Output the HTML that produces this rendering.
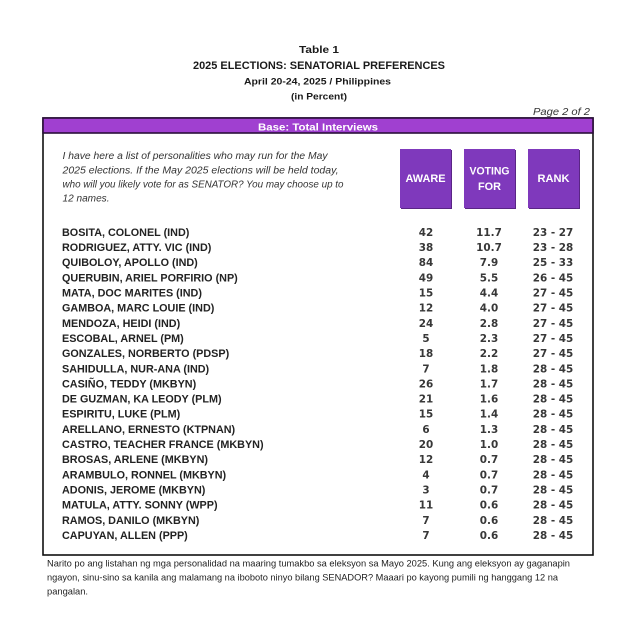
<!DOCTYPE html>
<html><head><meta charset="utf-8"><style>
html,body{margin:0;padding:0;background:#fff;}
svg{display:block;}
.t{font-family:"Liberation Sans",sans-serif;font-weight:bold;fill:#1a1a1a;}
.n{font-family:"Liberation Sans",sans-serif;font-weight:bold;font-size:10.8px;fill:#222;}
.v{font-family:"DejaVu Sans","Liberation Sans",sans-serif;font-weight:bold;font-size:10.4px;fill:#383838;}
.q{font-family:"Liberation Sans",sans-serif;font-style:italic;font-size:10px;fill:#333;}
.f{font-family:"Liberation Sans",sans-serif;font-size:9.4px;fill:#1e1e1e;}
.w{font-family:"Liberation Sans",sans-serif;font-weight:bold;fill:#fff;}
</style></head><body>
<svg width="640" height="629" viewBox="0 0 640 629" xmlns="http://www.w3.org/2000/svg">
<rect width="640" height="629" fill="#fff"/>
<text class="t" x="319" y="53" font-size="10.5" text-anchor="middle" textLength="40" lengthAdjust="spacingAndGlyphs">Table 1</text>
<text class="t" x="319" y="69" font-size="11" text-anchor="middle" textLength="252" lengthAdjust="spacingAndGlyphs">2025 ELECTIONS: SENATORIAL PREFERENCES</text>
<text class="t" x="317.5" y="84.5" font-size="9.5" text-anchor="middle" textLength="147" lengthAdjust="spacingAndGlyphs">April 20-24, 2025 / Philippines</text>
<text class="t" x="319" y="99.5" font-size="9.5" text-anchor="middle" textLength="56" lengthAdjust="spacingAndGlyphs">(in Percent)</text>
<text x="590" y="115" font-family="Liberation Sans, sans-serif" font-style="italic" font-size="10.5" fill="#333" text-anchor="end" textLength="57" lengthAdjust="spacingAndGlyphs">Page 2 of 2</text>

<rect x="43" y="118" width="550" height="437" fill="#fff" stroke="#111" stroke-width="1.6"/>
<rect x="43" y="118" width="550" height="15" fill="#a040d0" stroke="#2a0f3a" stroke-width="1.6"/>
<text class="w" x="318" y="130.5" font-size="10.5" text-anchor="middle" textLength="120" lengthAdjust="spacingAndGlyphs">Base: Total Interviews</text>

<text class="q" x="62.5" y="159" textLength="265" lengthAdjust="spacingAndGlyphs">I have here a list of personalities who may run for the May</text>
<text class="q" x="62.5" y="173.5" textLength="276" lengthAdjust="spacingAndGlyphs">2025 elections. If the May 2025 elections will be held today,</text>
<text class="q" x="62.5" y="187.5" textLength="281" lengthAdjust="spacingAndGlyphs">who will you likely vote for as SENATOR? You may choose up to</text>
<text class="q" x="62.5" y="201.5" textLength="47" lengthAdjust="spacingAndGlyphs">12 names.</text>

<rect x="401" y="150" width="51" height="59" fill="#5a2585"/>
<rect x="400" y="149" width="51" height="59" fill="#7f39bc"/>
<rect x="465" y="150" width="51" height="59" fill="#5a2585"/>
<rect x="464" y="149" width="51" height="59" fill="#7f39bc"/>
<rect x="529" y="150" width="51" height="59" fill="#5a2585"/>
<rect x="528" y="149" width="51" height="59" fill="#7f39bc"/>
<text class="w" x="425.5" y="182" font-size="11" text-anchor="middle" textLength="40" lengthAdjust="spacingAndGlyphs">AWARE</text>
<text class="w" x="489.5" y="174.5" font-size="11" text-anchor="middle" textLength="40" lengthAdjust="spacingAndGlyphs">VOTING</text>
<text class="w" x="489.5" y="190" font-size="11" text-anchor="middle" textLength="23" lengthAdjust="spacingAndGlyphs">FOR</text>
<text class="w" x="553.5" y="182" font-size="11" text-anchor="middle" textLength="32" lengthAdjust="spacingAndGlyphs">RANK</text>

<g>
<text class="n" x="62" y="235.9">BOSITA, COLONEL (IND)</text>
<text class="n" x="62" y="251.05">RODRIGUEZ, ATTY. VIC (IND)</text>
<text class="n" x="62" y="266.2">QUIBOLOY, APOLLO (IND)</text>
<text class="n" x="62" y="281.35">QUERUBIN, ARIEL PORFIRIO (NP)</text>
<text class="n" x="62" y="296.5">MATA, DOC MARITES (IND)</text>
<text class="n" x="62" y="311.65">GAMBOA, MARC LOUIE (IND)</text>
<text class="n" x="62" y="326.8">MENDOZA, HEIDI (IND)</text>
<text class="n" x="62" y="341.95">ESCOBAL, ARNEL (PM)</text>
<text class="n" x="62" y="357.1">GONZALES, NORBERTO (PDSP)</text>
<text class="n" x="62" y="372.25">SAHIDULLA, NUR-ANA (IND)</text>
<text class="n" x="62" y="387.4">CASIÑO, TEDDY (MKBYN)</text>
<text class="n" x="62" y="402.55">DE GUZMAN, KA LEODY (PLM)</text>
<text class="n" x="62" y="417.7">ESPIRITU, LUKE (PLM)</text>
<text class="n" x="62" y="432.85">ARELLANO, ERNESTO (KTPNAN)</text>
<text class="n" x="62" y="448">CASTRO, TEACHER FRANCE (MKBYN)</text>
<text class="n" x="62" y="463.15">BROSAS, ARLENE (MKBYN)</text>
<text class="n" x="62" y="478.3">ARAMBULO, RONNEL (MKBYN)</text>
<text class="n" x="62" y="493.45">ADONIS, JEROME (MKBYN)</text>
<text class="n" x="62" y="508.6">MATULA, ATTY. SONNY (WPP)</text>
<text class="n" x="62" y="523.75">RAMOS, DANILO (MKBYN)</text>
<text class="n" x="62" y="538.9">CAPUYAN, ALLEN (PPP)</text>
</g>
<g text-anchor="middle">
<text class="v" x="426" y="235.9">42</text><text class="v" x="489" y="235.9">11.7</text><text class="v" x="553" y="235.9">23 - 27</text>
<text class="v" x="426" y="251.05">38</text><text class="v" x="489" y="251.05">10.7</text><text class="v" x="553" y="251.05">23 - 28</text>
<text class="v" x="426" y="266.2">84</text><text class="v" x="489" y="266.2">7.9</text><text class="v" x="553" y="266.2">25 - 33</text>
<text class="v" x="426" y="281.35">49</text><text class="v" x="489" y="281.35">5.5</text><text class="v" x="553" y="281.35">26 - 45</text>
<text class="v" x="426" y="296.5">15</text><text class="v" x="489" y="296.5">4.4</text><text class="v" x="553" y="296.5">27 - 45</text>
<text class="v" x="426" y="311.65">12</text><text class="v" x="489" y="311.65">4.0</text><text class="v" x="553" y="311.65">27 - 45</text>
<text class="v" x="426" y="326.8">24</text><text class="v" x="489" y="326.8">2.8</text><text class="v" x="553" y="326.8">27 - 45</text>
<text class="v" x="426" y="341.95">5</text><text class="v" x="489" y="341.95">2.3</text><text class="v" x="553" y="341.95">27 - 45</text>
<text class="v" x="426" y="357.1">18</text><text class="v" x="489" y="357.1">2.2</text><text class="v" x="553" y="357.1">27 - 45</text>
<text class="v" x="426" y="372.25">7</text><text class="v" x="489" y="372.25">1.8</text><text class="v" x="553" y="372.25">28 - 45</text>
<text class="v" x="426" y="387.4">26</text><text class="v" x="489" y="387.4">1.7</text><text class="v" x="553" y="387.4">28 - 45</text>
<text class="v" x="426" y="402.55">21</text><text class="v" x="489" y="402.55">1.6</text><text class="v" x="553" y="402.55">28 - 45</text>
<text class="v" x="426" y="417.7">15</text><text class="v" x="489" y="417.7">1.4</text><text class="v" x="553" y="417.7">28 - 45</text>
<text class="v" x="426" y="432.85">6</text><text class="v" x="489" y="432.85">1.3</text><text class="v" x="553" y="432.85">28 - 45</text>
<text class="v" x="426" y="448">20</text><text class="v" x="489" y="448">1.0</text><text class="v" x="553" y="448">28 - 45</text>
<text class="v" x="426" y="463.15">12</text><text class="v" x="489" y="463.15">0.7</text><text class="v" x="553" y="463.15">28 - 45</text>
<text class="v" x="426" y="478.3">4</text><text class="v" x="489" y="478.3">0.7</text><text class="v" x="553" y="478.3">28 - 45</text>
<text class="v" x="426" y="493.45">3</text><text class="v" x="489" y="493.45">0.7</text><text class="v" x="553" y="493.45">28 - 45</text>
<text class="v" x="426" y="508.6">11</text><text class="v" x="489" y="508.6">0.6</text><text class="v" x="553" y="508.6">28 - 45</text>
<text class="v" x="426" y="523.75">7</text><text class="v" x="489" y="523.75">0.6</text><text class="v" x="553" y="523.75">28 - 45</text>
<text class="v" x="426" y="538.9">7</text><text class="v" x="489" y="538.9">0.6</text><text class="v" x="553" y="538.9">28 - 45</text>
</g>

<text class="f" x="47" y="566.5" textLength="523" lengthAdjust="spacingAndGlyphs">Narito po ang listahan ng mga personalidad na maaring tumakbo sa eleksyon sa Mayo 2025. Kung ang eleksyon ay gaganapin</text>
<text class="f" x="47" y="580.5" textLength="511" lengthAdjust="spacingAndGlyphs">ngayon, sinu-sino sa kanila ang malamang na iboboto ninyo bilang SENADOR?  Maaari po kayong pumili ng hanggang 12 na</text>
<text class="f" x="47" y="594.5" textLength="41" lengthAdjust="spacingAndGlyphs">pangalan.</text>
</svg>
</body></html>
